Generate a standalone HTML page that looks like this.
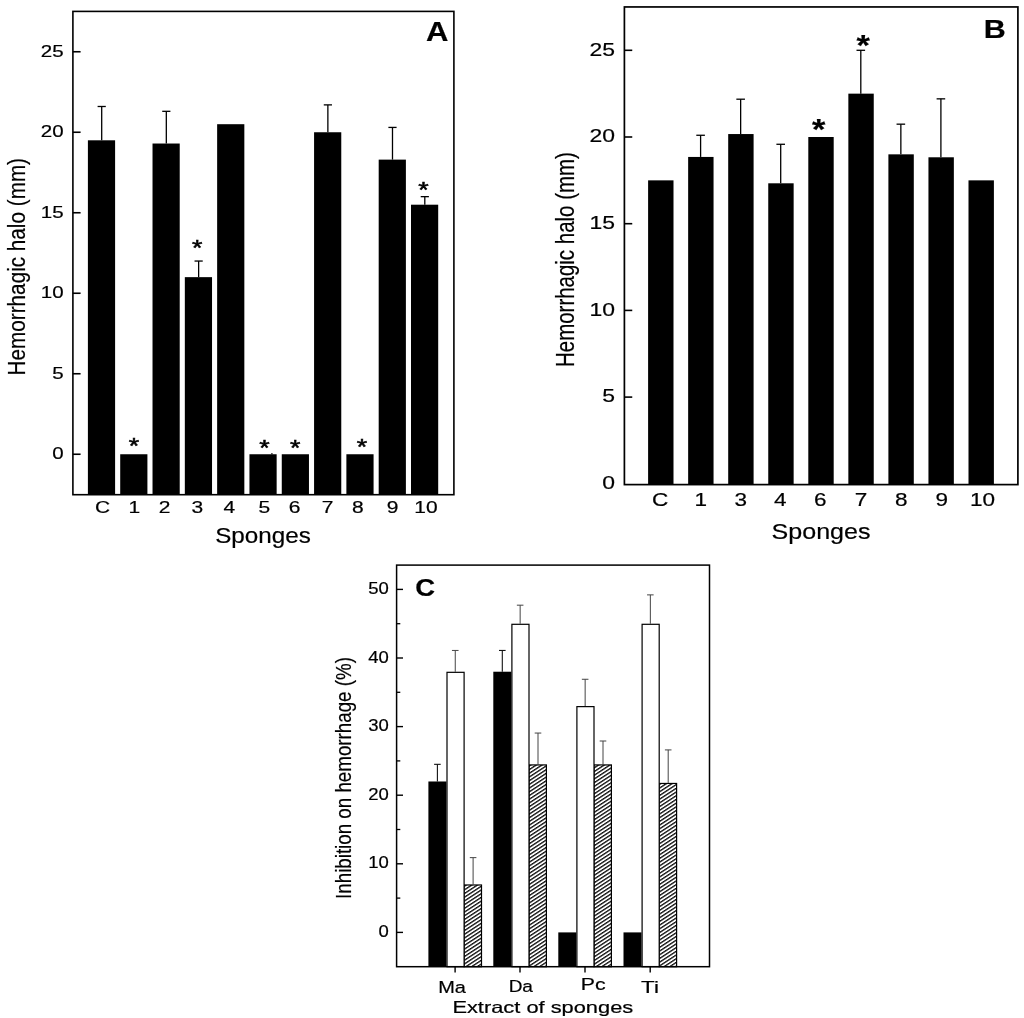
<!DOCTYPE html>
<html><head><meta charset="utf-8"><title>Figure</title>
<style>html,body{margin:0;padding:0;background:#fff}svg{display:block}text{font-family:"Liberation Sans",Arial,Helvetica,sans-serif}</style>
</head><body>
<svg width="1024" height="1018" viewBox="0 0 1024 1018">
<defs><pattern id="h" patternUnits="userSpaceOnUse" width="20" height="3.1" patternTransform="rotate(-33.2)"><rect x="0" y="0" width="20" height="1.35" fill="#111"/></pattern></defs>
<rect x="0" y="0" width="1024" height="1018" fill="#fff"/>
<line x1="101.70" y1="106.49" x2="101.70" y2="140.30" stroke="#000" stroke-width="1.3"/>
<line x1="97.60" y1="106.49" x2="105.80" y2="106.49" stroke="#000" stroke-width="1.3"/>
<rect x="87.90" y="140.30" width="27.20" height="354.40" fill="#000"/>
<rect x="120.21" y="454.25" width="27.20" height="40.45" fill="#000"/>
<line x1="166.32" y1="111.32" x2="166.32" y2="143.52" stroke="#000" stroke-width="1.3"/>
<line x1="162.22" y1="111.32" x2="170.42" y2="111.32" stroke="#000" stroke-width="1.3"/>
<rect x="152.52" y="143.52" width="27.20" height="351.18" fill="#000"/>
<line x1="198.63" y1="261.05" x2="198.63" y2="277.15" stroke="#000" stroke-width="1.3"/>
<line x1="194.53" y1="261.05" x2="202.73" y2="261.05" stroke="#000" stroke-width="1.3"/>
<rect x="184.83" y="277.15" width="27.20" height="217.55" fill="#000"/>
<rect x="217.14" y="124.20" width="27.20" height="370.50" fill="#000"/>
<rect x="249.45" y="454.25" width="27.20" height="40.45" fill="#000"/>
<rect x="281.76" y="454.25" width="27.20" height="40.45" fill="#000"/>
<line x1="327.87" y1="104.88" x2="327.87" y2="132.25" stroke="#000" stroke-width="1.3"/>
<line x1="323.77" y1="104.88" x2="331.97" y2="104.88" stroke="#000" stroke-width="1.3"/>
<rect x="314.07" y="132.25" width="27.20" height="362.45" fill="#000"/>
<rect x="346.38" y="454.25" width="27.20" height="40.45" fill="#000"/>
<line x1="392.49" y1="127.42" x2="392.49" y2="159.62" stroke="#000" stroke-width="1.3"/>
<line x1="388.39" y1="127.42" x2="396.59" y2="127.42" stroke="#000" stroke-width="1.3"/>
<rect x="378.69" y="159.62" width="27.20" height="335.08" fill="#000"/>
<line x1="424.80" y1="196.65" x2="424.80" y2="204.70" stroke="#000" stroke-width="1.3"/>
<line x1="420.70" y1="196.65" x2="428.90" y2="196.65" stroke="#000" stroke-width="1.3"/>
<rect x="411.00" y="204.70" width="27.20" height="290.00" fill="#000"/>
<rect x="271.20" y="453.20" width="1.40" height="1.10" fill="#000"/>
<rect x="72.90" y="11.40" width="381.00" height="483.30" fill="none" stroke="#000" stroke-width="1.6"/>
<line x1="72.90" y1="454.25" x2="80.60" y2="454.25" stroke="#000" stroke-width="1.6"/>
<line x1="72.90" y1="373.75" x2="80.60" y2="373.75" stroke="#000" stroke-width="1.6"/>
<line x1="72.90" y1="293.25" x2="80.60" y2="293.25" stroke="#000" stroke-width="1.6"/>
<line x1="72.90" y1="212.75" x2="80.60" y2="212.75" stroke="#000" stroke-width="1.6"/>
<line x1="72.90" y1="132.25" x2="80.60" y2="132.25" stroke="#000" stroke-width="1.6"/>
<line x1="72.90" y1="51.75" x2="80.60" y2="51.75" stroke="#000" stroke-width="1.6"/>
<text transform="translate(52.17 459.10) scale(1.1862 1)" font-size="17.31" fill="#000" stroke="#000" stroke-width="0.2">0</text>
<text transform="translate(52.22 378.60) scale(1.1862 1)" font-size="17.31" fill="#000" stroke="#000" stroke-width="0.2">5</text>
<text transform="translate(40.77 298.10) scale(1.1862 1)" font-size="17.31" fill="#000" stroke="#000" stroke-width="0.2">10</text>
<text transform="translate(40.82 217.60) scale(1.1862 1)" font-size="17.31" fill="#000" stroke="#000" stroke-width="0.2">15</text>
<text transform="translate(40.77 137.10) scale(1.1862 1)" font-size="17.31" fill="#000" stroke="#000" stroke-width="0.2">20</text>
<text transform="translate(40.82 56.60) scale(1.1862 1)" font-size="17.31" fill="#000" stroke="#000" stroke-width="0.2">25</text>
<text transform="translate(95.04 513.00) scale(1.3000 1)" font-size="16.15" fill="#000" stroke="#000" stroke-width="0.2">C</text>
<text transform="translate(128.40 513.00) scale(1.3000 1)" font-size="16.15" fill="#000" stroke="#000" stroke-width="0.2">1</text>
<text transform="translate(158.78 513.00) scale(1.3000 1)" font-size="16.15" fill="#000" stroke="#000" stroke-width="0.2">2</text>
<text transform="translate(191.43 513.00) scale(1.3000 1)" font-size="16.15" fill="#000" stroke="#000" stroke-width="0.2">3</text>
<text transform="translate(223.53 513.00) scale(1.3000 1)" font-size="16.15" fill="#000" stroke="#000" stroke-width="0.2">4</text>
<text transform="translate(258.58 513.00) scale(1.3000 1)" font-size="16.15" fill="#000" stroke="#000" stroke-width="0.2">5</text>
<text transform="translate(288.70 513.00) scale(1.3000 1)" font-size="16.15" fill="#000" stroke="#000" stroke-width="0.2">6</text>
<text transform="translate(321.68 513.00) scale(1.3000 1)" font-size="16.15" fill="#000" stroke="#000" stroke-width="0.2">7</text>
<text transform="translate(352.08 513.00) scale(1.3000 1)" font-size="16.15" fill="#000" stroke="#000" stroke-width="0.2">8</text>
<text transform="translate(386.85 513.00) scale(1.3000 1)" font-size="16.15" fill="#000" stroke="#000" stroke-width="0.2">9</text>
<text transform="translate(414.21 513.00) scale(1.3000 1)" font-size="16.15" fill="#000" stroke="#000" stroke-width="0.2">10</text>
<text transform="translate(215.21 543.21) scale(1.1187 1)" font-size="21.66" fill="#000" stroke="#000" stroke-width="0.2">Sponges</text>
<text transform="translate(425.92 41.10) scale(1.1537 1)" font-size="26.91" font-weight="bold" fill="#000" stroke="#000" stroke-width="0.2">A</text>
<text transform="translate(24.50 375.41) rotate(-90) scale(0.8780 1)" font-size="23.59" fill="#000" stroke="#000" stroke-width="0.2">Hemorrhagic halo (mm)</text>
<text transform="translate(128.63 453.09) scale(1.2657 1)" font-size="21.14" fill="#000" stroke="#000" stroke-width="0.5">*</text>
<text transform="translate(191.93 255.39) scale(1.2657 1)" font-size="21.14" fill="#000" stroke="#000" stroke-width="0.5">*</text>
<text transform="translate(259.18 455.14) scale(1.2657 1)" font-size="21.14" fill="#000" stroke="#000" stroke-width="0.5">*</text>
<text transform="translate(289.88 455.14) scale(1.2657 1)" font-size="21.14" fill="#000" stroke="#000" stroke-width="0.5">*</text>
<text transform="translate(356.78 453.54) scale(1.2657 1)" font-size="21.14" fill="#000" stroke="#000" stroke-width="0.5">*</text>
<text transform="translate(418.18 196.89) scale(1.2657 1)" font-size="21.14" fill="#000" stroke="#000" stroke-width="0.5">*</text>
<rect x="648.10" y="180.35" width="25.40" height="304.25" fill="#000"/>
<line x1="700.60" y1="135.27" x2="700.60" y2="156.94" stroke="#000" stroke-width="1.3"/>
<line x1="696.30" y1="135.27" x2="704.90" y2="135.27" stroke="#000" stroke-width="1.3"/>
<rect x="688.15" y="156.94" width="25.40" height="327.66" fill="#000"/>
<line x1="740.65" y1="99.20" x2="740.65" y2="134.05" stroke="#000" stroke-width="1.3"/>
<line x1="736.35" y1="99.20" x2="744.95" y2="99.20" stroke="#000" stroke-width="1.3"/>
<rect x="728.20" y="134.05" width="25.40" height="350.55" fill="#000"/>
<line x1="780.70" y1="144.28" x2="780.70" y2="183.30" stroke="#000" stroke-width="1.3"/>
<line x1="776.40" y1="144.28" x2="785.00" y2="144.28" stroke="#000" stroke-width="1.3"/>
<rect x="768.25" y="183.30" width="25.40" height="301.30" fill="#000"/>
<rect x="808.30" y="137.00" width="25.40" height="347.60" fill="#000"/>
<line x1="860.80" y1="50.30" x2="860.80" y2="93.65" stroke="#000" stroke-width="1.3"/>
<line x1="856.50" y1="50.30" x2="865.10" y2="50.30" stroke="#000" stroke-width="1.3"/>
<rect x="848.35" y="93.65" width="25.40" height="390.95" fill="#000"/>
<line x1="900.85" y1="124.17" x2="900.85" y2="154.34" stroke="#000" stroke-width="1.3"/>
<line x1="896.55" y1="124.17" x2="905.15" y2="124.17" stroke="#000" stroke-width="1.3"/>
<rect x="888.40" y="154.34" width="25.40" height="330.26" fill="#000"/>
<line x1="940.90" y1="98.85" x2="940.90" y2="157.29" stroke="#000" stroke-width="1.3"/>
<line x1="936.60" y1="98.85" x2="945.20" y2="98.85" stroke="#000" stroke-width="1.3"/>
<rect x="928.45" y="157.29" width="25.40" height="327.31" fill="#000"/>
<rect x="968.50" y="180.35" width="25.40" height="304.25" fill="#000"/>
<rect x="624.40" y="6.95" width="393.50" height="477.65" fill="none" stroke="#000" stroke-width="1.7"/>
<line x1="624.40" y1="397.10" x2="632.25" y2="397.10" stroke="#000" stroke-width="1.6"/>
<line x1="624.40" y1="310.40" x2="632.25" y2="310.40" stroke="#000" stroke-width="1.6"/>
<line x1="624.40" y1="223.70" x2="632.25" y2="223.70" stroke="#000" stroke-width="1.6"/>
<line x1="624.40" y1="137.00" x2="632.25" y2="137.00" stroke="#000" stroke-width="1.6"/>
<line x1="624.40" y1="50.30" x2="632.25" y2="50.30" stroke="#000" stroke-width="1.6"/>
<text transform="translate(602.23 489.15) scale(1.2113 1)" font-size="18.94" fill="#000" stroke="#000" stroke-width="0.2">0</text>
<text transform="translate(602.29 402.45) scale(1.2113 1)" font-size="18.94" fill="#000" stroke="#000" stroke-width="0.2">5</text>
<text transform="translate(589.50 315.75) scale(1.2113 1)" font-size="18.94" fill="#000" stroke="#000" stroke-width="0.2">10</text>
<text transform="translate(589.55 229.05) scale(1.2113 1)" font-size="18.94" fill="#000" stroke="#000" stroke-width="0.2">15</text>
<text transform="translate(589.50 142.35) scale(1.2113 1)" font-size="18.94" fill="#000" stroke="#000" stroke-width="0.2">20</text>
<text transform="translate(589.55 55.65) scale(1.2113 1)" font-size="18.94" fill="#000" stroke="#000" stroke-width="0.2">25</text>
<text transform="translate(652.01 505.80) scale(1.2400 1)" font-size="18.18" fill="#000" stroke="#000" stroke-width="0.2">C</text>
<text transform="translate(694.39 505.80) scale(1.2400 1)" font-size="18.18" fill="#000" stroke="#000" stroke-width="0.2">1</text>
<text transform="translate(734.60 505.80) scale(1.2400 1)" font-size="18.18" fill="#000" stroke="#000" stroke-width="0.2">3</text>
<text transform="translate(774.00 505.80) scale(1.2400 1)" font-size="18.18" fill="#000" stroke="#000" stroke-width="0.2">4</text>
<text transform="translate(814.06 505.80) scale(1.2400 1)" font-size="18.18" fill="#000" stroke="#000" stroke-width="0.2">6</text>
<text transform="translate(854.84 505.80) scale(1.2400 1)" font-size="18.18" fill="#000" stroke="#000" stroke-width="0.2">7</text>
<text transform="translate(895.09 505.80) scale(1.2400 1)" font-size="18.18" fill="#000" stroke="#000" stroke-width="0.2">8</text>
<text transform="translate(935.42 505.80) scale(1.2400 1)" font-size="18.18" fill="#000" stroke="#000" stroke-width="0.2">9</text>
<text transform="translate(969.95 505.80) scale(1.2400 1)" font-size="18.18" fill="#000" stroke="#000" stroke-width="0.2">10</text>
<text transform="translate(771.57 539.33) scale(1.1628 1)" font-size="21.55" fill="#000" stroke="#000" stroke-width="0.2">Sponges</text>
<text transform="translate(983.84 38.00) scale(1.1777 1)" font-size="25.89" font-weight="bold" fill="#000" stroke="#000" stroke-width="0.2">B</text>
<text transform="translate(573.72 366.99) rotate(-90) scale(0.8190 1)" font-size="24.99" fill="#000" stroke="#000" stroke-width="0.2">Hemorrhagic halo (mm)</text>
<text transform="translate(811.91 138.57) scale(1.1717 1)" font-size="29.26" font-weight="bold" fill="#000" stroke="#000" stroke-width="0.2">*</text>
<text transform="translate(856.41 55.07) scale(1.1717 1)" font-size="29.26" font-weight="bold" fill="#000" stroke="#000" stroke-width="0.2">*</text>
<line x1="437.40" y1="764.33" x2="437.40" y2="781.48" stroke="#111" stroke-width="1.1"/>
<line x1="434.10" y1="764.33" x2="440.70" y2="764.33" stroke="#111" stroke-width="1.1"/>
<rect x="428.40" y="781.48" width="18.00" height="185.22" fill="#000"/>
<line x1="473.10" y1="857.63" x2="473.10" y2="884.38" stroke="#444" stroke-width="1"/>
<line x1="469.80" y1="857.63" x2="476.40" y2="857.63" stroke="#444" stroke-width="1"/>
<rect x="464.10" y="884.98" width="17.40" height="81.72" fill="url(#h)" stroke="#000" stroke-width="1.2"/>
<line x1="455.25" y1="650.45" x2="455.25" y2="671.72" stroke="#444" stroke-width="1"/>
<line x1="451.95" y1="650.45" x2="458.55" y2="650.45" stroke="#444" stroke-width="1"/>
<rect x="447.00" y="672.32" width="17.10" height="294.38" fill="#fff" stroke="#000" stroke-width="1.2"/>
<line x1="455.10" y1="966.70" x2="455.10" y2="972.60" stroke="#000" stroke-width="1.4"/>
<line x1="502.30" y1="650.45" x2="502.30" y2="671.72" stroke="#111" stroke-width="1.1"/>
<line x1="499.00" y1="650.45" x2="505.60" y2="650.45" stroke="#111" stroke-width="1.1"/>
<rect x="493.30" y="671.72" width="18.00" height="294.98" fill="#000"/>
<line x1="538.00" y1="733.05" x2="538.00" y2="764.33" stroke="#444" stroke-width="1"/>
<line x1="534.70" y1="733.05" x2="541.30" y2="733.05" stroke="#444" stroke-width="1"/>
<rect x="529.00" y="764.93" width="17.40" height="201.77" fill="url(#h)" stroke="#000" stroke-width="1.2"/>
<line x1="520.15" y1="605.18" x2="520.15" y2="623.70" stroke="#444" stroke-width="1"/>
<line x1="516.85" y1="605.18" x2="523.45" y2="605.18" stroke="#444" stroke-width="1"/>
<rect x="511.90" y="624.30" width="17.10" height="342.40" fill="#fff" stroke="#000" stroke-width="1.2"/>
<line x1="520.00" y1="966.70" x2="520.00" y2="972.60" stroke="#000" stroke-width="1.4"/>
<rect x="558.30" y="932.40" width="18.00" height="34.30" fill="#000"/>
<line x1="603.00" y1="741.01" x2="603.00" y2="764.33" stroke="#444" stroke-width="1"/>
<line x1="599.70" y1="741.01" x2="606.30" y2="741.01" stroke="#444" stroke-width="1"/>
<rect x="594.00" y="764.93" width="17.40" height="201.77" fill="url(#h)" stroke="#000" stroke-width="1.2"/>
<line x1="585.15" y1="679.27" x2="585.15" y2="706.02" stroke="#444" stroke-width="1"/>
<line x1="581.85" y1="679.27" x2="588.45" y2="679.27" stroke="#444" stroke-width="1"/>
<rect x="576.90" y="706.62" width="17.10" height="260.08" fill="#fff" stroke="#000" stroke-width="1.2"/>
<line x1="585.00" y1="966.70" x2="585.00" y2="972.60" stroke="#000" stroke-width="1.4"/>
<rect x="623.50" y="932.40" width="18.00" height="34.30" fill="#000"/>
<line x1="668.20" y1="749.92" x2="668.20" y2="782.85" stroke="#444" stroke-width="1"/>
<line x1="664.90" y1="749.92" x2="671.50" y2="749.92" stroke="#444" stroke-width="1"/>
<rect x="659.20" y="783.45" width="17.40" height="183.25" fill="url(#h)" stroke="#000" stroke-width="1.2"/>
<line x1="650.35" y1="594.89" x2="650.35" y2="623.70" stroke="#444" stroke-width="1"/>
<line x1="647.05" y1="594.89" x2="653.65" y2="594.89" stroke="#444" stroke-width="1"/>
<rect x="642.10" y="624.30" width="17.10" height="342.40" fill="#fff" stroke="#000" stroke-width="1.2"/>
<line x1="650.20" y1="966.70" x2="650.20" y2="972.60" stroke="#000" stroke-width="1.4"/>
<rect x="396.60" y="565.10" width="312.90" height="401.60" fill="none" stroke="#000" stroke-width="1.5"/>
<line x1="396.60" y1="932.40" x2="403.00" y2="932.40" stroke="#000" stroke-width="1.4"/>
<line x1="396.60" y1="863.80" x2="403.00" y2="863.80" stroke="#000" stroke-width="1.4"/>
<line x1="396.60" y1="795.20" x2="403.00" y2="795.20" stroke="#000" stroke-width="1.4"/>
<line x1="396.60" y1="726.60" x2="403.00" y2="726.60" stroke="#000" stroke-width="1.4"/>
<line x1="396.60" y1="658.00" x2="403.00" y2="658.00" stroke="#000" stroke-width="1.4"/>
<line x1="396.60" y1="589.40" x2="403.00" y2="589.40" stroke="#000" stroke-width="1.4"/>
<line x1="396.60" y1="898.10" x2="400.30" y2="898.10" stroke="#000" stroke-width="1.3"/>
<line x1="396.60" y1="829.50" x2="400.30" y2="829.50" stroke="#000" stroke-width="1.3"/>
<line x1="396.60" y1="760.90" x2="400.30" y2="760.90" stroke="#000" stroke-width="1.3"/>
<line x1="396.60" y1="692.30" x2="400.30" y2="692.30" stroke="#000" stroke-width="1.3"/>
<line x1="396.60" y1="623.70" x2="400.30" y2="623.70" stroke="#000" stroke-width="1.3"/>
<text transform="translate(378.53 936.90) scale(1.1686 1)" font-size="15.83" fill="#000" stroke="#000" stroke-width="0.2">0</text>
<text transform="translate(368.26 868.30) scale(1.1686 1)" font-size="15.83" fill="#000" stroke="#000" stroke-width="0.2">10</text>
<text transform="translate(368.26 799.70) scale(1.1686 1)" font-size="15.83" fill="#000" stroke="#000" stroke-width="0.2">20</text>
<text transform="translate(368.26 731.10) scale(1.1686 1)" font-size="15.83" fill="#000" stroke="#000" stroke-width="0.2">30</text>
<text transform="translate(368.26 662.50) scale(1.1686 1)" font-size="15.83" fill="#000" stroke="#000" stroke-width="0.2">40</text>
<text transform="translate(368.26 593.90) scale(1.1686 1)" font-size="15.83" fill="#000" stroke="#000" stroke-width="0.2">50</text>
<text transform="translate(438.25 992.70) scale(1.2373 1)" font-size="16.13" fill="#000" stroke="#000" stroke-width="0.2">Ma</text>
<text transform="translate(508.63 991.70) scale(1.1801 1)" font-size="16.13" fill="#000" stroke="#000" stroke-width="0.2">Da</text>
<text transform="translate(580.74 990.30) scale(1.3188 1)" font-size="16.13" fill="#000" stroke="#000" stroke-width="0.2">Pc</text>
<text transform="translate(641.05 993.45) scale(1.3886 1)" font-size="16.13" fill="#000" stroke="#000" stroke-width="0.2">Ti</text>
<text transform="translate(452.40 1013.20) scale(1.3064 1)" font-size="16.72" fill="#000" stroke="#000" stroke-width="0.2">Extract of sponges</text>
<text transform="translate(415.30 596.06) scale(1.1304 1)" font-size="24.31" font-weight="bold" fill="#000" stroke="#000" stroke-width="0.2">C</text>
<text transform="translate(350.63 898.94) rotate(-90) scale(0.8712 1)" font-size="21.55" fill="#000" stroke="#000" stroke-width="0.2">Inhibition on hemorrhage (%)</text>
</svg>
</body></html>
